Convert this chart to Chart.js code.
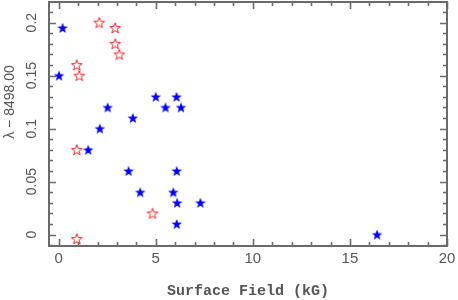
<!DOCTYPE html>
<html><head><meta charset="utf-8">
<script src="https://cdn.jsdelivr.net/npm/chart.js@4/dist/chart.umd.min.js"></script>
<style>html,body{margin:0;padding:0;background:#fff}#wrap{width:458px;height:300px}</style>
</head><body><div id="wrap"><canvas id="c" width="458" height="300"></canvas></div>
<script>
// Data
const blueX = [0.2, 0.02, 5.0, 6.07, 5.5, 6.3, 2.52, 3.82, 2.12, 1.52, 3.6, 6.08, 4.2, 5.9, 6.1, 7.3, 6.08, 16.4];
const blueY = [0.195, 0.15, 0.13, 0.13, 0.12, 0.12, 0.12, 0.11, 0.10, 0.08, 0.06, 0.06, 0.04, 0.04, 0.03, 0.03, 0.01, 0.0];
const redX = [2.09, 2.91, 2.91, 3.12, 0.93, 1.06, 0.93, 4.83, 0.93];
const redY = [0.2, 0.195, 0.18, 0.17, 0.16, 0.15, 0.08, 0.02, -0.004];
const xTicks = [0, 5, 10, 15, 20];
const xTickLabels = ['0', '5', '10', '15', '20'];
const yTicks = [0, 0.05, 0.1, 0.15, 0.2];
const yTickLabels = ['0', '0.05', '0.1', '0.15', '0.2'];
const xTitle = 'Surface Field (kG)';
const yTitle = 'λ − 8498.00';

function starImage(fill, stroke) {
  const s = 14, c = document.createElement('canvas');
  c.width = s; c.height = s;
  const g = c.getContext('2d');
  const R = 5.6, r = 2.3, cx = s / 2, cy = s / 2 + 0.4;
  g.beginPath();
  for (let i = 0; i < 10; i++) {
    const a = -Math.PI / 2 + i * Math.PI / 5;
    const rr = i % 2 ? r : R;
    const px = cx + rr * Math.cos(a), py = cy + rr * Math.sin(a);
    i ? g.lineTo(px, py) : g.moveTo(px, py);
  }
  g.closePath();
  if (fill) { g.fillStyle = fill; g.fill(); }
  if (stroke) { g.strokeStyle = stroke; g.lineWidth = 1; g.stroke(); }
  return c;
}
const blueStar = starImage('#0000ff', null);
const redStar = starImage(null, '#ff2020');

const TEXT = '#555555';
const FRAME = '#6a6a6a';

const framePlugin = {
  id: 'frame',
  beforeDatasetsDraw(chart) {
    const { ctx, chartArea: a, scales: { x, y } } = chart;
    ctx.save();
    ctx.strokeStyle = FRAME;
    ctx.lineWidth = 1.6;
    ctx.lineCap = 'butt';
    ctx.beginPath();
    for (let v = 0; v <= 20; v++) {
      const px = Math.round(x.getPixelForValue(v)) + 0.5;
      const len = v % 5 === 0 ? 7 : 4;
      ctx.moveTo(px, a.bottom); ctx.lineTo(px, a.bottom - len);
      ctx.moveTo(px, a.top); ctx.lineTo(px, a.top + len);
    }
    for (let k = -1; k <= 21; k++) {
      const py = Math.round(y.getPixelForValue(k / 100)) + 0.5;
      if (py < a.top || py > a.bottom) continue;
      const len = k % 5 === 0 ? 7 : 4;
      ctx.moveTo(a.left, py); ctx.lineTo(a.left + len, py);
      ctx.moveTo(a.right, py); ctx.lineTo(a.right - len, py);
    }
    ctx.stroke();
    ctx.lineWidth = 2;
    ctx.strokeRect(a.left, a.top, a.right - a.left, a.bottom - a.top);
    // y title
    ctx.fillStyle = TEXT;
    ctx.font = '14px "Liberation Sans"';
    ctx.translate(10, 102);
    ctx.rotate(-Math.PI / 2);
    ctx.textAlign = 'center';
    ctx.textBaseline = 'middle';
    ctx.fillText(yTitle, 0, 0);
    ctx.restore();
  }
};

new Chart(document.getElementById('c'), {
  type: 'scatter',
  data: {
    datasets: [
      { label: 'blue', data: blueX.map((v, i) => ({ x: v, y: blueY[i] })), pointStyle: blueStar, pointRadius: 7, pointHoverRadius: 7 },
      { label: 'red', data: redX.map((v, i) => ({ x: v, y: redY[i] })), pointStyle: redStar, pointRadius: 7, pointHoverRadius: 7 }
    ]
  },
  options: {
    responsive: false,
    animation: false,
    devicePixelRatio: 1,
    layout: { autoPadding: false, padding: { left: 0, right: 11, top: 2, bottom: 0 } },
    plugins: { legend: { display: false }, tooltip: { enabled: false } },
    scales: {
      x: {
        type: 'linear', min: -0.5, max: 20,
        afterBuildTicks: s => { s.ticks = xTicks.map(v => ({ value: v })); },
        afterFit: s => { s.height = 54; s.paddingLeft = 0; s.paddingRight = 0; },
        ticks: { callback: (v, i) => xTickLabels[i], color: TEXT, font: { family: 'Liberation Sans', size: 15 }, padding: 4, maxRotation: 0 },
        grid: { display: false, drawTicks: false, tickLength: 0 },
        border: { display: false },
        title: { display: true, text: xTitle, color: TEXT, font: { family: 'Liberation Mono', weight: 'bold', size: 15 }, padding: { top: 7, bottom: 0 } }
      },
      y: {
        type: 'linear', min: -0.0107, max: 0.2195,
        afterBuildTicks: s => { s.ticks = yTicks.map(v => ({ value: v })); },
        afterFit: s => { s.width = 49; s.paddingTop = 0; s.paddingBottom = 0; },
        ticks: { callback: (v, i) => yTickLabels[i], color: TEXT, font: { family: 'Liberation Sans', size: 14 }, padding: 3, minRotation: 90, maxRotation: 90, crossAlign: 'center' },
        grid: { display: false, drawTicks: false, tickLength: 0 },
        border: { display: false },
        title: { display: false }
      }
    }
  },
  plugins: [framePlugin]
});
</script></body></html>
